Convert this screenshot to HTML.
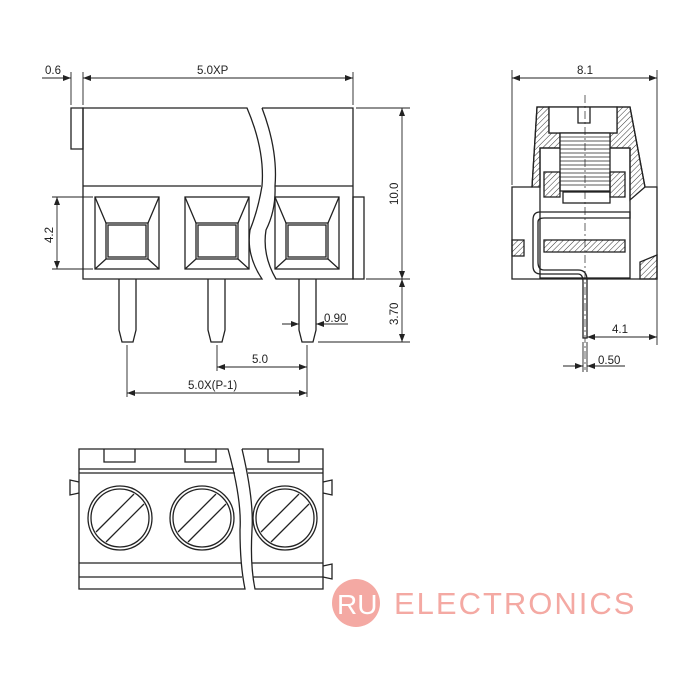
<!DOCTYPE html>
<html><head><meta charset="utf-8"><style>
html,body{margin:0;padding:0;background:#fff}
svg{display:block}
text{font-family:"Liberation Sans",sans-serif;fill:#222}
</style></head><body>
<svg width="700" height="700" viewBox="0 0 700 700" xmlns="http://www.w3.org/2000/svg">
<defs>
<pattern id="h" width="4" height="4" patternUnits="userSpaceOnUse" patternTransform="rotate(45)">
<line x1="0" y1="0" x2="0" y2="4" stroke="#333" stroke-width="1"/></pattern>
<marker id="a" markerWidth="8" markerHeight="6" refX="8" refY="3" orient="auto-start-reverse" markerUnits="userSpaceOnUse"><path d="M0,0 L8,3 L0,6 z" fill="#222"/></marker>
</defs>
<g fill="none" stroke="#222" stroke-width="1.3">
<!-- front view -->
<path d="M71,108 H83 V149 H71 Z"/>
<path d="M83,108 H247 Q265,150 262,186 Q258,210 250,230 Q246,255 262,279 H83 Z"/>
<path d="M262,108 H353 V279 H276 Q262,255 266,230 Q276,210 275,186 Q278,150 262,108"/>
<line x1="83" y1="186" x2="261" y2="186"/><line x1="275" y1="186" x2="353" y2="186"/>
<rect x="353" y="197" width="11" height="82"/>
<g id="sq1"><rect x="95" y="197" width="64" height="72"/><rect x="106" y="223" width="42" height="36"/><rect x="108" y="225" width="38" height="32"/>
<path d="M95,197 L106,223 M159,197 L148,223 M95,269 L106,259 M159,269 L148,259"/></g>
<use href="#sq1" x="90"/><use href="#sq1" x="180"/>
<path d="M119,279 V330 L122,342 H133 L136,330 V279"/>
<path d="M208,279 V330 L211,342 H222 L225,330 V279"/>
<path d="M299,279 V330 L302,342 H313 L316,330 V279"/>
<!-- dims front -->
<g stroke-width="0.9">
<line x1="71" y1="72" x2="71" y2="105"/><line x1="83" y1="72" x2="83" y2="105"/><line x1="353" y1="72" x2="353" y2="105"/>
<line x1="42" y1="78" x2="71" y2="78" marker-end="url(#a)"/>
<line x1="83" y1="78" x2="353" y2="78" marker-start="url(#a)" marker-end="url(#a)"/>
<line x1="356" y1="108" x2="410" y2="108"/><line x1="366" y1="279" x2="410" y2="279"/><line x1="318" y1="342" x2="410" y2="342"/>
<line x1="402" y1="108" x2="402" y2="279" marker-start="url(#a)" marker-end="url(#a)"/>
<line x1="402" y1="279" x2="402" y2="342" marker-start="url(#a)" marker-end="url(#a)"/>
<line x1="52" y1="197" x2="93" y2="197"/><line x1="52" y1="269" x2="93" y2="269"/>
<line x1="57" y1="197" x2="57" y2="269" marker-start="url(#a)" marker-end="url(#a)"/>
<line x1="282" y1="324" x2="299" y2="324" marker-end="url(#a)"/><line x1="316" y1="324" x2="348" y2="324" marker-start="url(#a)"/>
<line x1="127" y1="345" x2="127" y2="397"/><line x1="217" y1="345" x2="217" y2="371"/><line x1="307" y1="345" x2="307" y2="397"/>
<line x1="217" y1="367" x2="307" y2="367" marker-start="url(#a)" marker-end="url(#a)"/>
<line x1="127" y1="393" x2="307" y2="393" marker-start="url(#a)" marker-end="url(#a)"/>
</g>
<!-- side view -->
<path d="M512,279 V187 H532 L537,107 H630 L645,187 H657 V279 Z"/>
<rect x="540" y="148" width="90" height="130"/>
<path d="M537,107 H549 V133 H560 V148 H540 V187 H532 Z" fill="url(#h)"/>
<path d="M630,107 H617 V133 H610 V148 H630 V200 L645,187 Z" fill="url(#h)"/>
<rect x="512" y="240" width="12" height="16" fill="url(#h)"/>
<path d="M640,279 V262 L657,255 V279 Z" fill="url(#h)"/>
<rect x="549" y="107" width="68" height="26" fill="#fff"/>
<path d="M578,107 V123 H590 V107"/>
<rect x="560" y="133" width="50" height="58" fill="#fff"/>
<g stroke-width="0.8"><path d="M560,137 H610 M560,141 H610 M560,145 H610 M560,149 H610 M560,153 H610 M560,157 H610 M560,161 H610 M560,165 H610 M560,169 H610 M560,173 H610 M560,177 H610 M560,181 H610 M560,185 H610"/></g>
<rect x="544" y="172" width="16" height="25" fill="url(#h)"/><rect x="610" y="172" width="15" height="25" fill="url(#h)"/>
<rect x="563" y="192" width="47" height="11"/>
<rect x="544" y="240" width="81" height="12" fill="url(#h)"/>
<path d="M630,212 H540 Q533,212 533,220 V266 Q533,274 541,274 H578 Q583,274 583,282 V338 H587 V280 Q587,270 578,270 H544 Q538,270 538,262 V222 Q538,218 544,218 H630 Z"/>
<line x1="585" y1="95" x2="585" y2="370" stroke-dasharray="8,3,2,3" stroke-width="0.7"/>
<g stroke-width="0.9">
<line x1="512" y1="70" x2="512" y2="185"/><line x1="657" y1="70" x2="657" y2="345"/>
<line x1="512" y1="78" x2="657" y2="78" marker-start="url(#a)" marker-end="url(#a)"/>
<line x1="587" y1="337" x2="657" y2="337" marker-start="url(#a)" marker-end="url(#a)"/>
<line x1="583" y1="342" x2="583" y2="372"/><line x1="587" y1="342" x2="587" y2="372"/>
<line x1="563" y1="366" x2="583" y2="366" marker-end="url(#a)"/><line x1="587" y1="366" x2="625" y2="366" marker-start="url(#a)"/>
</g>
<!-- bottom view -->
<path d="M79,449 H228 Q242,500 240,530 Q240,565 245,589 H79 Z"/>
<path d="M242,449 H323 V589 H255 Q250,565 252,530 Q254,500 242,449"/>
<path d="M79,469 H234 M79,473 H235 M79,563 H241 M79,577 H242 M247,469 H323 M248,473 H323 M252,563 H323 M253,577 H323"/>
<path d="M104,449 V462 H135 V449 M185,449 V462 H216 V449 M268,449 V462 H299 V449"/>
<path d="M79,482 L70,480 V495 L79,493"/><path d="M323,482 L332,480 V495 L323,493"/><path d="M323,566 L332,564 V579 L323,577"/>
<g id="c1"><circle cx="120" cy="518" r="32"/><circle cx="120" cy="518" r="29"/>
<path d="M96,532 L134,494 M106,542 L144,504"/></g>
<use href="#c1" x="82"/><use href="#c1" x="165"/>
</g>
<g font-size="11.5">
<text x="45" y="74">0.6</text>
<text x="197" y="74">5.0XP</text>
<text x="577" y="74">8.1</text>
<text x="324" y="322">0.90</text>
<text x="252" y="363">5.0</text>
<text x="188" y="389">5.0X(P-1)</text>
<text x="612" y="333">4.1</text>
<text x="598" y="364">0.50</text>
<text transform="translate(398,205) rotate(-90)">10.0</text>
<text transform="translate(398,325) rotate(-90)">3.70</text>
<text transform="translate(53,243) rotate(-90)">4.2</text>
</g>
<circle cx="356" cy="603" r="24" fill="#f4a9a3"/>
<text x="337" y="614" font-size="28" style="fill:#fff">RU</text>
<text x="394" y="614" font-size="31" style="fill:#f4a9a3;letter-spacing:2px">ELECTRONICS</text>
</svg>
</body></html>
